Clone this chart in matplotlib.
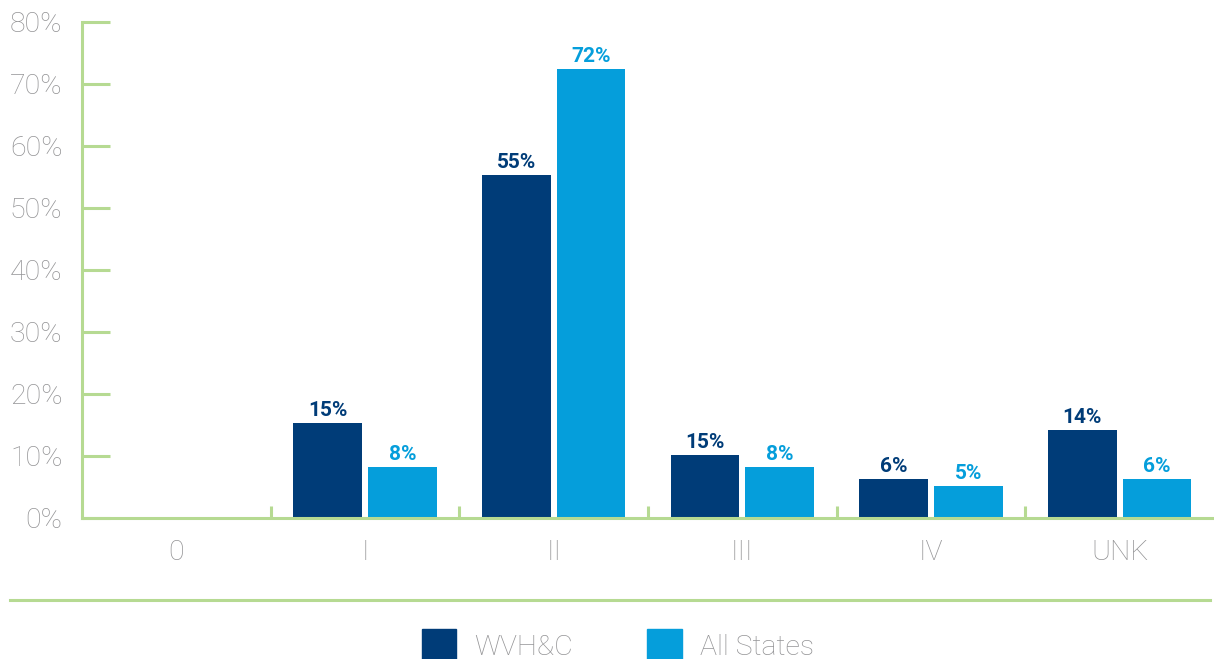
import numpy as np
import matplotlib.pyplot as plt
from matplotlib.patches import Patch
from matplotlib.lines import Line2D

# Chart data (bar heights as drawn, labels as printed)
categories = ["0", "I", "II", "III", "IV", "UNK"]
wvhc_values = [0, 15.3, 55.3, 10.2, 6.3, 14.2]
all_states_values = [0, 8.2, 72.4, 8.2, 5.2, 6.3]
wvhc_labels = ["", "15%", "55%", "15%", "6%", "14%"]
all_states_labels = ["", "8%", "72%", "8%", "5%", "6%"]
y_ticks = [0, 10, 20, 30, 40, 50, 60, 70, 80]

dark_blue = "#003c78"
light_blue = "#059edb"
green = "#b6da92"
gray = "#949496"
tick_font = {"family": "Roboto", "weight": "light", "size": 20.5}

fig = plt.figure(figsize=(12.14, 6.59), dpi=100)
ax = fig.add_axes([82 / 1214, 1 - 518 / 659, 1 - 82 / 1214, (518 - 22) / 659])

x = np.arange(len(categories))
width = 0.365
offset = 0.198
ax.bar(x - offset, wvhc_values, width, color=dark_blue)
ax.bar(x + offset, all_states_values, width, color=light_blue)

for i in range(len(categories)):
    if wvhc_labels[i]:
        ax.annotate(wvhc_labels[i], (x[i] - offset, wvhc_values[i]), xytext=(0, 2),
                    textcoords="offset points", ha="center", va="bottom",
                    fontsize=15, fontweight="bold", family="Roboto", color=dark_blue)
    if all_states_labels[i]:
        ax.annotate(all_states_labels[i], (x[i] + offset, all_states_values[i]), xytext=(0, 2),
                    textcoords="offset points", ha="center", va="bottom",
                    fontsize=15, fontweight="bold", family="Roboto", color=light_blue)

ax.set_xlim(-0.5, 5.5)
ax.set_ylim(0, 80)
ax.set_yticks(y_ticks)
ax.set_yticklabels([f"{t}%" for t in y_ticks])
ax.set_xticks(x)
ax.set_xticklabels(categories)
ax.set_xticks(np.arange(0.5, 5, 1), minor=True)

for side in ["top", "right"]:
    ax.spines[side].set_visible(False)
for side in ["left", "bottom"]:
    ax.spines[side].set_color(green)
    ax.spines[side].set_linewidth(2.2)

ax.tick_params(axis="y", direction="in", length=20, width=2.2, color=green,
               labelcolor=gray, pad=14)
ax.tick_params(axis="x", which="major", length=0, labelcolor=gray, pad=15)
ax.tick_params(axis="x", which="minor", direction="in", length=8.5, width=2.2, color=green)
for lab in ax.get_xticklabels() + ax.get_yticklabels():
    lab.set_fontproperties(tick_font)

# separator line above legend
fig.add_artist(Line2D([10 / 1214, 1210 / 1214], [1 - 600 / 659] * 2,
                      color=green, linewidth=2.2, transform=fig.transFigure))

handles = [Patch(color=dark_blue, label="WVH&C"), Patch(color=light_blue, label="All States")]
leg = fig.legend(handles=handles, loc="center", bbox_to_anchor=(618 / 1214, 1 - 645 / 659),
                 ncol=2, frameon=False, handlelength=1.2, handleheight=1.3,
                 handletextpad=0.65, columnspacing=2.6, prop=tick_font)
for t in leg.get_texts():
    t.set_color(gray)

fig.savefig("out.png", dpi=100)
